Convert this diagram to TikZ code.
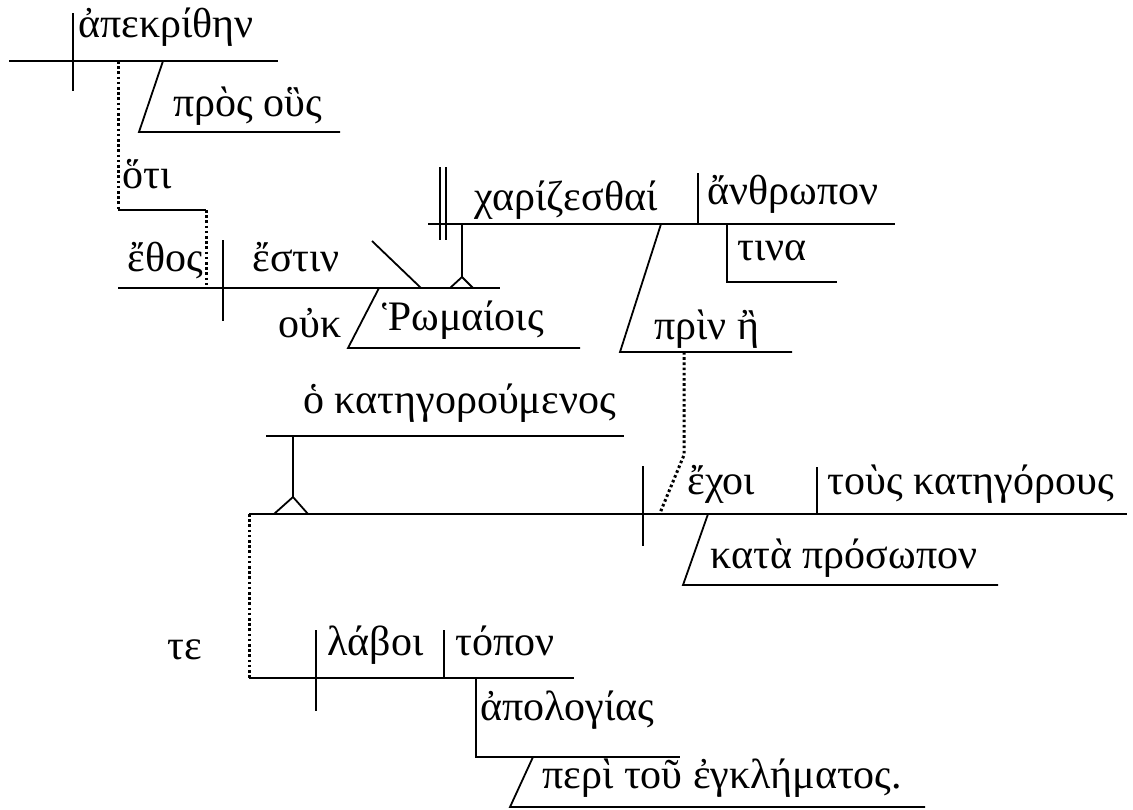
\documentclass[tikz,border=0pt]{standalone}
\usepackage{fontspec}
\setmainfont{Liberation Serif}
\usepackage{tikz}
\usetikzlibrary{positioning}
\tikzstyle{mot}=[inner sep=0pt,anchor=base west,font=\fontsize{21}{25}\selectfont]
\tikzstyle{ligne}=[line width=0.9pt]
\tikzstyle{pointille}=[line width=1.5pt,dash pattern=on 1.3pt off 1.3pt]
\begin{document}
\begin{tikzpicture}[x=0.5pt,y=-0.5pt]
\useasboundingbox (0,0) rectangle (1133,809);
\node[mot] (a) at (78,37) {ἀπεκρίθην};
\node[mot] (b) at (173,116) {πρὸς οὓς};
\node[mot] (c) at (122,188) {ὅτι};
\node[mot] (d) at (127,271) {ἔθος};
\node[mot] (e) at (252,271) {ἔστιν};
\node[mot] (f) at (278,337) {οὐκ};
\node[mot] (g) at (382,330) {Ῥωμαίοις};
\node[mot] (h) at (474,210) {χαρίζεσθαί};
\node[mot] (i) at (707,204) {ἄνθρωπον};
\node[mot] (j) at (737,260) {τινα};
\node[mot] (k) at (654,339) {πρὶν ἢ};
\node[mot] (l) at (303,413) {ὁ κατηγορούμενος};
\node[mot] (m) at (687,494) {ἔχοι};
\node[mot] (n) at (827,494) {τοὺς κατηγόρους};
\node[mot] (o) at (710,568) {κατὰ πρόσωπον};
\node[mot] (p) at (167,659) {τε};
\node[mot] (q) at (327,655) {λάβοι};
\node[mot] (r) at (455,655) {τόπον};
\node[mot] (s) at (480,720) {ἀπολογίας};
\node[mot] (t) at (542,788) {περὶ τοῦ ἐγκλήματος.};
%Drawing Lines
\draw[ligne] (9,61) -- (278,61);
\draw[ligne] (73,13) -- (73,91);
\draw[ligne] (163,61) -- (139,132) -- (340,132);
\draw[pointille] (118,61) -- (118,210);
\draw[ligne] (118,210) -- (206,210);
\draw[pointille] (206,210) -- (206,288);
\draw[ligne] (118,288) -- (500,288);
\draw[ligne] (223,240) -- (223,321);
\draw[ligne] (372,241) -- (421,288);
\draw[ligne] (379,288) -- (348,348) -- (580,348);
\draw[ligne] (462,224) -- (462,277);
\draw[ligne] (450,288) -- (462,277) -- (473,288);
\draw[ligne] (428,224) -- (895,224);
\draw[ligne] (440,167) -- (440,240);
\draw[ligne] (446,167) -- (446,240);
\draw[ligne] (698,173) -- (698,224);
\draw[ligne] (727,224) -- (727,282) -- (837,282);
\draw[ligne] (661,224) -- (620,352) -- (792,352);
\draw[pointille] (684,352) -- (684,455) -- (660,513);
\draw[ligne] (266,436) -- (624,436);
\draw[ligne] (293,436) -- (293,497);
\draw[ligne] (274,514) -- (293,497) -- (308,514);
\draw[ligne] (249,514) -- (1127,514);
\draw[ligne] (643,466) -- (643,546);
\draw[ligne] (817,467) -- (817,514);
\draw[ligne] (708,514) -- (683,585) -- (998,585);
\draw[pointille] (249,514) -- (249,678);
\draw[ligne] (249,678) -- (574,678);
\draw[ligne] (316,630) -- (316,711);
\draw[ligne] (444,630) -- (444,678);
\draw[ligne] (476,678) -- (476,757) -- (680,757);
\draw[ligne] (533,757) -- (510,807) -- (925,807);
\end{tikzpicture}
\end{document}
